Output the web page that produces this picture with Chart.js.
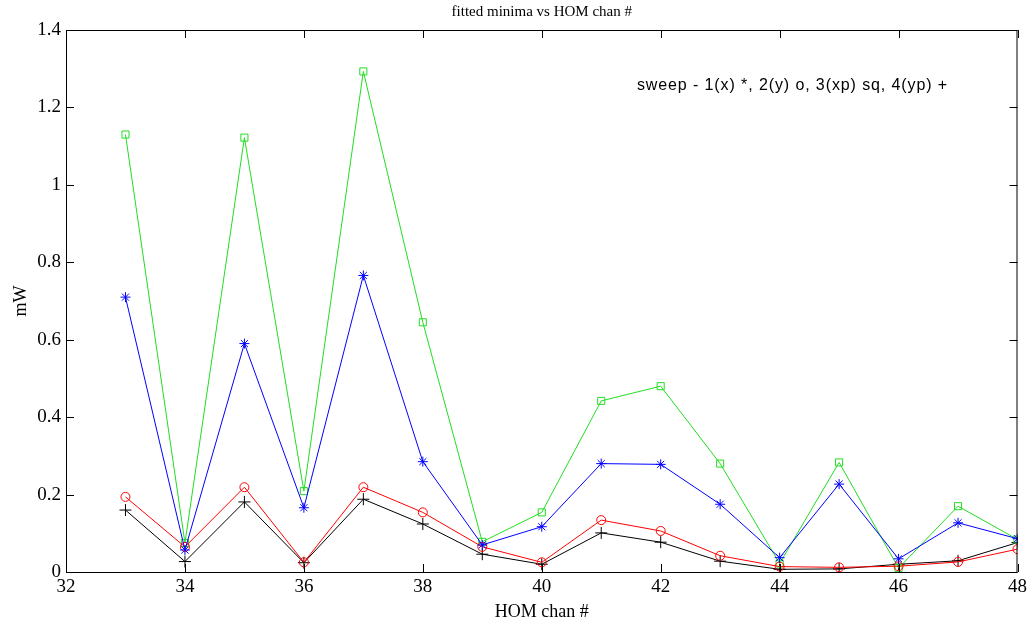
<!DOCTYPE html>
<html>
<head>
<meta charset="utf-8">
<script src="https://cdn.jsdelivr.net/npm/chart.js@4"></script>
<style>
  html, body { margin: 0; padding: 0; background: #fff; }
  #wrap { width: 1031px; height: 623px; }
</style>
</head>
<body>
<div id="wrap"><canvas id="chartmin"></canvas></div>
<script>
// HOM channel numbers and fitted minima (mW) per sweep
var chans = [33, 34, 35, 36, 37, 38, 39, 40, 41, 42, 43, 44, 45, 46, 47, 48];
var sweepX  = [0.710, 0.057, 0.590, 0.166, 0.766, 0.285, 0.070, 0.117, 0.280, 0.278, 0.175, 0.037, 0.227, 0.034, 0.127, 0.086];
var sweepY  = [0.194, 0.065, 0.219, 0.025, 0.219, 0.154, 0.065, 0.025, 0.134, 0.106, 0.042, 0.014, 0.012, 0.015, 0.026, 0.059];
var sweepXp = [1.130, 0.075, 1.122, 0.209, 1.293, 0.645, 0.078, 0.154, 0.442, 0.480, 0.280, 0.022, 0.283, 0.010, 0.170, 0.084];
var sweepYp = [0.160, 0.027, 0.181, 0.024, 0.188, 0.124, 0.046, 0.020, 0.101, 0.077, 0.028, 0.007, 0.008, 0.020, 0.029, 0.076];
var xTicks = [32, 34, 36, 38, 40, 42, 44, 46, 48];
var yTicks = [0, 0.2, 0.4, 0.6, 0.8, 1, 1.2, 1.4];
var titleText = "fitted minima vs HOM chan #";
var noteText = "sweep - 1(x) *, 2(y) o, 3(xp) sq, 4(yp) +";

function toPoints(vals){
    var pts = [];
    for (var i = 0; i < chans.length; i++) {
        pts.push({x: chans[i], y: vals[i]});
    }
    return pts;
}

function makeSet(label, vals, color, style, radius){
    return {
        label: label,
        data: toPoints(vals),
        borderColor: color,
        backgroundColor: "rgba(0,0,0,0)",
        pointBorderColor: color,
        pointBackgroundColor: "rgba(0,0,0,0)",
        pointStyle: style,
        pointRadius: radius,
        pointBorderWidth: 1,
        borderWidth: 1,
        tension: 0
    };
}

var serif = "'Liberation Serif', 'Times New Roman', serif";

// box frame with inward ticks on all four sides, title over the plot box, sweep note
var framePlugin = {
    id: "frame",
    afterDraw: function(chart){
        var ctx = chart.ctx;
        var a = chart.chartArea;
        var sx = chart.scales.x, sy = chart.scales.y;
        ctx.save();
        ctx.strokeStyle = "#000";
        ctx.lineWidth = 1;
        ctx.strokeRect(a.left + 0.5, a.top + 0.5, a.right - a.left - 1, a.bottom - a.top);
        ctx.beginPath();
        var t = 8;
        for (var i = 0; i < xTicks.length; i++) {
            var px = Math.round(sx.getPixelForValue(xTicks[i])) + 0.5;
            ctx.moveTo(px, a.bottom); ctx.lineTo(px, a.bottom - t);
            ctx.moveTo(px, a.top); ctx.lineTo(px, a.top + t);
        }
        for (var j = 0; j < yTicks.length; j++) {
            var py = Math.round(sy.getPixelForValue(yTicks[j])) + 0.5;
            ctx.moveTo(a.left, py); ctx.lineTo(a.left + t, py);
            ctx.moveTo(a.right, py); ctx.lineTo(a.right - t, py);
        }
        ctx.stroke();

        ctx.fillStyle = "#000";
        ctx.textAlign = "center";
        ctx.textBaseline = "middle";
        ctx.font = "15px " + serif;
        ctx.fillText(titleText, (a.left + a.right) / 2, 12);

        ctx.textAlign = "left";
        ctx.font = "16px 'Liberation Sans', Arial, sans-serif";
        ctx.letterSpacing = "0.9px";
        ctx.fillText(noteText, sx.getPixelForValue(41.6), sy.getPixelForValue(1.257));
        ctx.restore();
    }
};

var ctx_chart = document.getElementById("chartmin").getContext("2d");
var chart = new Chart(ctx_chart, {
    type: "line",
    data: {
        datasets: [
            makeSet("sweep 1 (x)", sweepX, "#0000ff", "star", 5),
            makeSet("sweep 2 (y)", sweepY, "#ff0000", "circle", 4.5),
            makeSet("sweep 3 (xp)", sweepXp, "#22dd22", "rect", 5),
            makeSet("sweep 4 (yp)", sweepYp, "#000000", "cross", 6)
        ]
    },
    options: {
        responsive: true,
        maintainAspectRatio: false,
        animation: false,
        layout: { padding: { left: 0, right: 13, top: 30, bottom: 0 } },
        plugins: {
            legend: { display: false },
            tooltip: { enabled: false },
            title: { display: false }
        },
        scales: {
            x: {
                type: "linear",
                min: 32, max: 48,
                afterBuildTicks: function(s){ s.ticks = xTicks.map(function(v){ return {value: v}; }); },
                afterFit: function(s){ s.height = 51; },
                grid: { display: false, drawTicks: false },
                border: { display: false },
                ticks: { color: "#000", padding: 4, font: { family: serif, size: 19 }, maxRotation: 0 },
                title: {
                    display: true, text: "HOM chan #", color: "#000",
                    font: { family: serif, size: 18 }, padding: { top: 0, bottom: 0 }
                }
            },
            y: {
                type: "linear",
                min: 0, max: 1.4,
                afterBuildTicks: function(s){ s.ticks = yTicks.map(function(v){ return {value: v}; }); },
                afterFit: function(s){ s.width = 66; },
                grid: { display: false, drawTicks: false },
                border: { display: false },
                ticks: {
                    color: "#000", padding: 5, font: { family: serif, size: 19 },
                    callback: function(v){ return String(Math.round(v * 10) / 10); }
                },
                title: {
                    display: true, text: "mW", color: "#000",
                    font: { family: serif, size: 18 }, padding: { top: 10, bottom: 6 }
                }
            }
        }
    },
    plugins: [framePlugin]
});
</script>
</body>
</html>
